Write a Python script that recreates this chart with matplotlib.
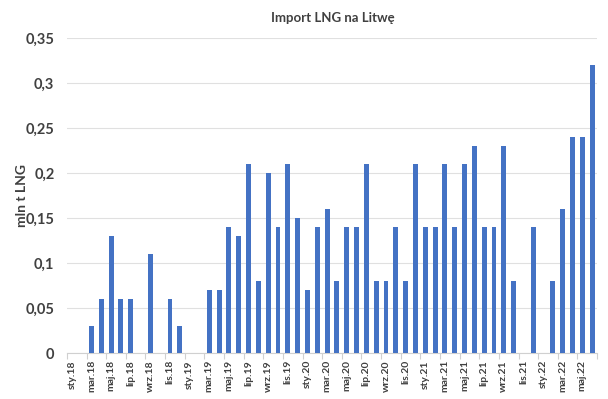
import numpy as np
import matplotlib
matplotlib.use("Agg")
from matplotlib import pyplot as plt

plt.rcParams['font.family'] = ['Lato', 'DejaVu Sans']

months = ['sty', 'lut', 'mar', 'kwi', 'maj', 'cze', 'lip', 'sie', 'wrz', 'paź', 'lis', 'gru']
years = ['18', '19', '20', '21', '22']
labels = [m + '.' + y for y in years for m in months][:54]

values_2018 = [0, 0, 0.03, 0.06, 0.13, 0.06, 0.06, 0, 0.11, 0, 0.06, 0.03]
values_2019 = [0, 0, 0.07, 0.07, 0.14, 0.13, 0.21, 0.08, 0.20, 0.14, 0.21, 0.15]
values_2020 = [0.07, 0.14, 0.16, 0.08, 0.14, 0.14, 0.21, 0.08, 0.08, 0.14, 0.08, 0.21]
values_2021 = [0.14, 0.14, 0.21, 0.14, 0.21, 0.23, 0.14, 0.14, 0.23, 0.08, 0, 0.14]
values_2022 = [0, 0.08, 0.16, 0.24, 0.24, 0.32]
values = values_2018 + values_2019 + values_2020 + values_2021 + values_2022

yticks = [0, 0.05, 0.1, 0.15, 0.2, 0.25, 0.3, 0.35]
ytick_labels = ['0', '0,05', '0,1', '0,15', '0,2', '0,25', '0,3', '0,35']

fig = plt.figure(figsize=(6.08, 3.99), dpi=100)
ax = fig.add_axes([0.110, 0.115, 0.872, 0.79])

x = np.arange(len(values))
ax.bar(x, values, width=0.5, color='#4472C4', zorder=3)

ax.set_xlim(-0.5, len(values) - 0.5)
ax.set_ylim(0, 0.35)
ax.set_yticks(yticks)
ax.set_yticklabels(ytick_labels, fontsize=10.5, fontweight='bold', color='#404040')
ax.set_xticks(x[::2])
ax.set_xticklabels(labels[::2], rotation=90, fontsize=7.5, fontweight='bold', color='#404040')
ax.set_xticks(np.arange(-0.5, len(values), 2), minor=True)
ax.tick_params(axis='y', length=0, pad=9)
ax.tick_params(axis='x', which='major', length=0, pad=5)
ax.tick_params(axis='x', which='minor', length=4, color='#D0D0D0', width=0.8)

ax.grid(axis='y', color='#E0E0E0', linewidth=0.8, zorder=0)
for s in ['top', 'right', 'left']:
    ax.spines[s].set_visible(False)
ax.spines['bottom'].set_color('#D0D0D0')

fig.text(22 / 608, 0.51, 'mln t LNG', rotation=90, ha='center', va='center',
         fontsize=10, fontweight='bold', color='#404040')
fig.text(0.547, 0.955, 'Import LNG na Litwę', ha='center', va='center',
         fontsize=9.5, fontweight='bold', color='#404040')

fig.savefig('out.png', dpi=100)
